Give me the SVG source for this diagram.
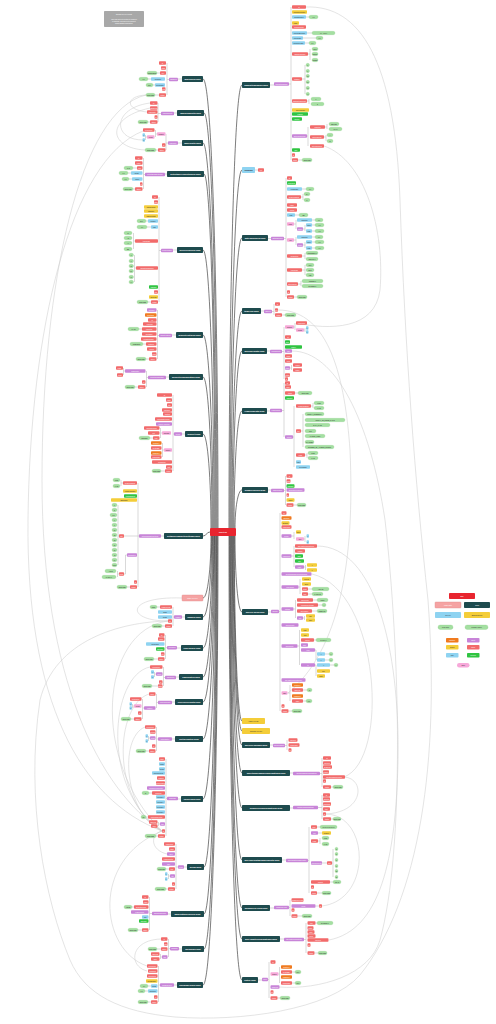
<svg xmlns="http://www.w3.org/2000/svg" width="496" height="1024" viewBox="0 0 496 1024">
<style>
rect{rx:.8px}
.j{fill:#1e4b4e}
.o{fill:#c884d8}
.s{fill:#f26a6a}
.b{fill:#8ed3f1}
.y{fill:#f4cd39}
.g{fill:#2fc441}
.r{fill:#f07a1f}
.p{fill:#f7a8d9}
.v{fill:#a4dfa1;stroke:#86cc83;stroke-width:.25;rx:1.7px}
.im{fill:#f5a3a3;stroke:#de8b8b;stroke-width:.4}
.br{fill:none;stroke:#c9c9c9;stroke-width:.7}
.ln{fill:none;stroke:#8c8c8c;stroke-width:.35}
.rf{fill:none;stroke:#cdcdcd;stroke-width:.55}
.mc{fill:none;stroke:#111;stroke-width:.55}
text{font-family:"Liberation Sans",Arial,sans-serif;font-size:1.5px;fill:#fff;text-anchor:middle}
.d{fill:#2a2a2a}
.m{font-size:2.3px;font-weight:bold}
.k{font-size:1.6px}
</style>
<rect width="496" height="1024" fill="#fff" rx="0"/>

<g id="connectors">
<g id="reference-links">
<path class="rf" d="M306,7 C360,5 395,60 400,200 C405,350 415,480 428,600 C440,760 420,900 360,975 C330,1010 240,1022 175,1017 C120,1012 85,995 70,960 C45,900 25,800 40,700 C55,640 120,622 168,621"/>
<path class="rf" d="M143,131 C70,160 30,330 28,520 C26,700 80,800 162,831"/>
<path class="rf" d="M146,95 C80,110 42,280 42,480 C42,680 100,790 162,831"/>
<path class="rf" d="M168,621 C100,630 90,760 162,831"/>
<path class="rf" d="M182,598 C125,596 125,621 168,621"/>
<path class="rf" d="M150,667 C110,675 100,790 162,831"/>
<path class="rf" d="M149,694 C115,705 110,800 162,831"/>
<path class="rf" d="M145,727 C118,738 125,815 162,831"/>
<path class="rf" d="M167,854 C150,850 150,834 162,831"/>
<path class="rf" d="M147,966 C100,950 90,860 162,831"/>
<path class="rf" d="M147,971 C128,966 130,940 161,939"/>
<path class="rf" d="M147,112 C125,110 125,96 146,95"/>
<path class="rf" d="M150,103 C112,108 112,140 143,140"/>
<path class="rf" d="M150,108 C105,118 108,148 145,150"/>
<path class="rf" d="M278,310 C330,310 345,380 350,450 C355,560 340,650 288,693"/>
<path class="rf" d="M292,351 C335,351 370,420 385,520 C400,650 405,850 380,940 C370,975 320,990 279,987"/>
<path class="rf" d="M324,146 C365,160 385,230 380,290 C375,330 330,330 296,323"/>
<path class="rf" d="M317,546 C375,546 400,650 398,760 C396,860 380,930 329,940"/>
<path class="rf" d="M344,777 C365,778 365,812 326,814"/>
<path class="rf" d="M326,814 C370,815 372,900 322,906"/>
<path class="rf" d="M312,574 C380,590 390,760 344,777"/>
</g>
<g id="root-links">
<path class="mc" d="M211,528 C211,481 207.8,434 203,434"/>
<path class="mc" d="M212,528 C212,452 208.4,377 203,377"/>
<path class="mc" d="M213,528 C213,431 209,335 203,335"/>
<path class="mc" d="M214,528 C214,389 209.6,250 203,250"/>
<path class="mc" d="M215,528 C215,351 210.6,174 204,174"/>
<path class="mc" d="M216,528 C216,335 210.8,143 203,143"/>
<path class="mc" d="M217,528 C217,320 211.8,113 204,113"/>
<path class="mc" d="M218,528 C218,303 212,79 203,79"/>
<path class="mc" d="M235,528 C235,509 237.8,490 242,490"/>
<path class="mc" d="M234,528 C234,469 237.2,411 242,411"/>
<path class="mc" d="M233,528 C233,439 236.6,351 242,351"/>
<path class="mc" d="M232,528 C232,419 236,311 242,311"/>
<path class="mc" d="M231,528 C231,383 235.4,238 242,238"/>
<path class="mc" d="M230,528 C230,349 234.8,170 242,170"/>
<path class="mc" d="M229,528 C229,306 234.2,85 242,85"/>
<path class="mc" d="M210,532 C206,532 207,536 203,536"/>
<path class="mc" d="M211,536 C211,567 207.8,598 203,598"/>
<path class="mc" d="M211.7,536 C211.7,576 208.2,617 203,617"/>
<path class="mc" d="M212.4,536 C212.4,592 208.6,648 203,648"/>
<path class="mc" d="M213.1,536 C213.1,606 209.1,677 203,677"/>
<path class="mc" d="M213.8,536 C213.8,619 209.5,702 203,702"/>
<path class="mc" d="M214.5,536 C214.5,637 209.9,739 203,739"/>
<path class="mc" d="M215.2,536 C215.2,667 210.3,799 203,799"/>
<path class="mc" d="M215.9,536 C215.9,701 211.1,867 204,867"/>
<path class="mc" d="M216.6,536 C216.6,725 211.6,914 204,914"/>
<path class="mc" d="M217.3,536 C217.3,742 212,949 204,949"/>
<path class="mc" d="M218,536 C218,760 212,985 203,985"/>
<path class="mc" d="M235,536 C235,574 237.8,612 242,612"/>
<path class="mc" d="M234.3,536 C234.3,628 237.4,721 242,721"/>
<path class="mc" d="M233.7,536 C233.7,633 237,731 242,731"/>
<path class="mc" d="M233,536 C233,640 236.6,745 242,745"/>
<path class="mc" d="M232.3,536 C232.3,654 236.2,773 242,773"/>
<path class="mc" d="M231.7,536 C231.7,672 235.8,808 242,808"/>
<path class="mc" d="M231,536 C231,698 235.4,860 242,860"/>
<path class="mc" d="M230.3,536 C230.3,722 235,908 242,908"/>
<path class="mc" d="M229.7,536 C229.7,737 234.6,939 242,939"/>
<path class="mc" d="M229,536 C229,758 234.2,980 242,980"/>
</g>
<g id="tree-links">
<path class="ln" d="M270,85 H274 M255,170 H258 M268,238.5 H271 M261,311 H264 M267,351 H270 M267,411 H270 M268,490 H271 M268,612 H271 M270,745 H273 M290,773 H293 M290,808 H293 M282,860 H286 M270,908 H274 M280,939 H284 M258,980 H262"/>
<path class="br" d="M289,84 H291 M291,7 V160 M306,17 H309 M307,33 H312 M303,38 H316 M305,43 H309 M308,54 H310 M310,49 V60 M302,79 H305 M305,65 V94 M307,101 H309 M309,99 V104 M307,136 H308 M308,127 V146 M325,127 H327 M327,124 V129 M324,137 H326 M326,135 V141 M298,160 H302"/>
<path class="br" d="M284,238.5 H286 M286,178 V297 M302,189 H306 M301,197 H303 M303,194 V200 M295,215 H299 M294,224 H296 M296,220 V229 M312,220 H315 M303,229 H305 M305,225 V231 M312,225 H315 M312,231 H315 M294,240 H296 M296,237 V245 M312,237 H315 M303,245 H305 M305,242 V248 M312,242 H315 M312,248 H315 M302,256 H305 M305,253 V259 M302,270 H305 M305,265 V275 M298,284 H301 M301,281 V286 M294,297 H297"/>
<path class="br" d="M272,311.5 H274 M274,304 V315 M282,315 H285"/>
<path class="br" d="M282,351.5 H284 M284,327 V379 M294,327 H295 M295,323 V330 M304,330 H305 M305,328 V332 M290,368 H291.5 M291.5,365 V370"/>
<path class="br" d="M282,410.5 H284 M284,383 V437 M295,393 H298 M293,437 H294 M294,406 V467 M311,406 H313 M313,403 V408 M301,431 H303 M303,414 V447 M305,455 H307 M307,453 V458"/>
<path class="br" d="M284,490.5 H285.5 M285.5,476 V505 M293.5,505 H297"/>
<path class="br" d="M279,611.5 H280 M280,513 V711 M291.5,536 H294 M294,532 V539 M304,539 H305 M305,536 V542 M291.5,556 H294 M294,546 V567 M304,567 H305.5 M305.5,565 V570 M298.5,587 H300 M300,579 V594 M308,589 H312 M308,594 H312 M293.5,609 H295.5 M295.5,600 V618 M313,600 H317 M318,605 H322 M312,611 H317 M303,618 H304.5 M304.5,616 V620 M297.5,646 H299.5 M299.5,630 V665 M314,640 H316 M315,650 H316 M316,650 V660 M325,654 H329 M325,660 H329 M315,665 H316 M316,665 V676 M330,665 H334 M287.5,693 H290 M290,685 V701 M303,690 H307 M303,701 H306 M288.5,711 H292"/>
<path class="br" d="M285,745.5 H287 M287,740 V750"/>
<path class="br" d="M320,773.5 H322 M322,758 V787 M331,787 H333"/>
<path class="br" d="M318,807.5 H322 M322,795 V819 M331,819 H333"/>
<path class="br" d="M308,860.5 H309 M309,827 V893 M317,827 H320 M318,833 H322 M318,841 H320 M320,838 V844 M322,863 H327 M332,863 H333 M333,849 V877 M330,882 H333 M317,893 H322"/>
<path class="br" d="M289,907.5 H290 M290,900 V916 M315.5,906 H319 M297.5,916 H302"/>
<path class="br" d="M304,939.5 H306 M306,923 V953 M315.5,923 H317 M314.5,953 H318"/>
<path class="br" d="M268,979.5 H269 M269,962 V998 M278.5,974 H279.5 M279.5,967 V983 M292,972 H295 M292,983 H295 M277.5,998 H280"/>
<path class="ln" d="M182,79 H178 M177,113 H174 M182,143 H178 M167,174 H165 M177,250 H173 M176,335 H172 M169,377 H166 M185,434 H182 M164,536 H161 M185,617 H182 M181,648 H177 M179,677 H176 M175,702 H172 M175,739 H172 M181,799 H178 M187,867 H184 M171,914 H168 M182,949 H179 M177,985 H174"/>
<path class="br" d="M169,79.5 H167 M167,63 V95 M157,73 H160 M148,79 H151 M153,85 H155 M155,95 H159"/>
<path class="br" d="M161,113.5 H158 M158,103 V122 M148,122 H150"/>
<path class="br" d="M168,143 H166 M166,134 V150 M157,134 H155.5 M155.5,130 V137 M147,137 H145.5 M145.5,135 V140 M156,150 H158"/>
<path class="br" d="M145,174.5 H143.5 M143.5,158 V189 M133,168 H137 M128,173 H131 M129,179 H132 M133,189 H135"/>
<path class="br" d="M161,250.5 H159 M159,197 V302 M146,221 H148 M147,227 H151 M135,241 H133.5 M133.5,233 V249 M136,268 H134.5 M134.5,255 V282 M148,302 H151"/>
<path class="br" d="M159,335.5 H157.5 M157.5,310 V359 M139,329 H142 M143,344 H146 M146,359 H149"/>
<path class="br" d="M148,377.5 H146.5 M146.5,371 V387 M125,371 H123.5 M123.5,368 V375 M135,387 H138"/>
<path class="br" d="M174,434 H173 M173,395 V471 M162,433 H160.5 M160.5,428 V438 M150,438 H153 M164,450 H162.5 M162.5,443 V457 M161,471 H165"/>
<path class="br" d="M139,536 H138 M138,483 V587 M123,483 H121 M121,480 V486 M124,536 H138 M119,536 H118 M118,505 V565 M127,555 H125.5 M125.5,555 V574 M124,574 H125.5 M119,574 H117.5 M117.5,571 V577 M127,587 H130"/>
<path class="br" d="M174,617 H173 M173,607 V626 M157,607 H160 M162,626 H165"/>
<path class="br" d="M167,647.7 H165.5 M165.5,635 V659 M154,659 H158"/>
<path class="br" d="M165,677.5 H163.5 M163.5,667 V686 M156,674 H154.5 M154.5,672 V677 M152,686 H158"/>
<path class="br" d="M158,702.5 H156.5 M156.5,694 V708 M144,708 H142.5 M142.5,699 V719 M134,706 H132.5 M132.5,704 V708 M131,719 H134"/>
<path class="br" d="M158,739 H156.5 M156.5,727 V751 M150,738 H148.5 M148.5,736 V741 M146,751 H149"/>
<path class="br" d="M167,798.5 H166 M166,759 V836 M149,793 H152 M146,817 H148 M160,824 H158.5 M158.5,822 V826 M156,836 H158"/>
<path class="br" d="M178,867 H176 M176,844 V889 M166,869 H169 M170,876 H168.5 M168.5,874 V879 M166,889 H168"/>
<path class="br" d="M152,913.5 H149.5 M149.5,897 V930 M132,907 H134 M138,930 H142"/>
<path class="br" d="M170,948.7 H168.5 M168.5,939 V957 M157,949 H161 M162,957 H160.5 M160.5,954 V959"/>
<path class="br" d="M160,985 H158.5 M158.5,966 V1002 M148,986 H151 M145,991 H148 M148,1002 H151"/>
</g>
</g>

<g id="note">
<rect x="104" y="11" width="40" height="16" fill="#a8a8a8" rx="0.6"/>
<text x="124" y="15" font-size="1.8">Ekahau Pro File Format</text>
<text x="124" y="19.5" font-size="1.3">This map was not created or endorsed</text>
<text x="124" y="21.7" font-size="1.3">by Ekahau, and does not represent</text>
<text x="124" y="23.9" font-size="1.3">official Ekahau information.</text>
</g>

<g id="root">
<rect x="210" y="528" width="26" height="8" fill="#e8252f" rx="1"/>
<text x="223" y="533.1" font-size="3" font-weight="bold">project.esx</text>
</g>

<g id="simulatedRadios">
<rect class="j" x="242" y="82" width="28" height="6"/><text class="m" x="256" y="85.8">simulatedRadios.json</text>
<rect class="o" x="274" y="82.3" width="15" height="3.4"/><text class="k" x="281.5" y="84.6">simulatedRadios</text>
<rect class="s" x="292" y="5.3" width="14" height="3.4"/><text x="299" y="7.5">id</text>
<rect class="y" x="292" y="10.3" width="15" height="3.4"/><text class="d" x="299.5" y="12.5">accessPointIndex</text>
<rect class="b" x="292" y="15.3" width="14" height="3.4"/><text class="d" x="299" y="17.5">transmitPower</text>
<rect class="v" x="309" y="15.3" width="9" height="3.4"/><text class="d" x="313.5" y="17.5">0.0</text>
<rect class="y" x="292" y="21.3" width="7" height="3.4"/><text class="d" x="295.5" y="23.5">band</text>
<rect class="s" x="292" y="25.3" width="14" height="3.4"/><text x="299" y="27.5">accessPointId</text>
<rect class="b" x="292" y="31.3" width="15" height="3.4"/><text class="d" x="299.5" y="33.5">antennaDirection</text>
<rect class="v" x="312" y="31.3" width="23" height="3.4"/><text class="d" x="323.5" y="33.5">0.0 - 360.0</text>
<rect class="b" x="292" y="36.3" width="11" height="3.4"/><text class="d" x="297.5" y="38.5">antennaTilt</text>
<rect class="v" x="316" y="36.3" width="7" height="3.4"/><text class="d" x="319.5" y="38.5">0.0</text>
<rect class="b" x="292" y="41.3" width="13" height="3.4"/><text class="d" x="298.5" y="43.5">antennaHeight</text>
<rect class="v" x="309" y="41.3" width="7" height="3.4"/><text class="d" x="312.5" y="43.5">2.4</text>
<rect class="s" x="292" y="52.3" width="16" height="3.4"/><text x="300" y="54.5">radioTechnology</text>
<rect class="v" x="312" y="47.3" width="6" height="3.4"/><text class="d" x="315" y="49.5">BLE</text>
<rect class="v" x="312" y="52.3" width="6" height="3.4"/><text class="d" x="315" y="54.5">DOT11</text>
<rect class="v" x="312" y="58.3" width="6" height="3.4"/><text class="d" x="315" y="60.5">NONE</text>
<rect class="s" x="292" y="77.3" width="10" height="3.4"/><text x="297" y="79.5">channel</text>
<rect class="v" x="306" y="63.3" width="3.5" height="3.4"/><text class="d" x="307.7" y="65.5">1</text>
<rect class="v" x="306" y="69.3" width="3.5" height="3.4"/><text class="d" x="307.7" y="71.5">6</text>
<rect class="v" x="306" y="74.3" width="3.5" height="3.4"/><text class="d" x="307.7" y="76.5">11</text>
<rect class="v" x="306" y="80.3" width="3.5" height="3.4"/><text class="d" x="307.7" y="82.5">36</text>
<rect class="v" x="306" y="86.3" width="3.5" height="3.4"/><text class="d" x="307.7" y="88.5">40</text>
<rect class="v" x="306" y="92.3" width="3.5" height="3.4"/><text class="d" x="307.7" y="94.5">44</text>
<rect class="s" x="292" y="99.3" width="15" height="3.4"/><text x="299.5" y="101.5">spatialStreamCount</text>
<rect class="v" x="311" y="97.3" width="10" height="3.4"/><text class="d" x="316" y="99.5">1</text>
<rect class="v" x="311" y="102.3" width="13" height="3.4"/><text class="d" x="317.5" y="104.5">2</text>
<rect class="y" x="292" y="108.3" width="17" height="3.4"/><text class="d" x="300.5" y="110.5">antennaIndex</text>
<rect class="g" x="292" y="112.3" width="16" height="3.4"/><text x="300" y="114.5">enabled</text>
<rect class="g" x="292" y="117.3" width="10" height="3.4"/><text x="297" y="119.5">shortGI</text>
<rect class="o" x="292" y="134.3" width="15" height="3.4"/><text x="299.5" y="136.5">antennaMounting</text>
<rect class="s" x="310" y="125.3" width="15" height="3.4"/><text x="317.5" y="127.5">mounting</text>
<rect class="v" x="329" y="122.3" width="10" height="3.4"/><text class="d" x="334" y="124.5">CEILING</text>
<rect class="v" x="329" y="127.3" width="13" height="3.4"/><text class="d" x="335.5" y="129.5">WALL</text>
<rect class="s" x="310" y="135.3" width="14" height="3.4"/><text x="317" y="137.5">antennaMode</text>
<rect class="v" x="327" y="133.3" width="6" height="3.4"/><text class="d" x="330" y="135.5">A</text>
<rect class="v" x="327" y="139.3" width="6" height="3.4"/><text class="d" x="330" y="141.5">B</text>
<rect class="s" x="310" y="144.3" width="14" height="3.4"/><text x="317" y="146.5">antennaTypeId</text>
<rect class="g" x="292" y="148.3" width="8" height="3.4"/><text x="296" y="150.5">auto</text>
<rect class="s" x="292" y="153.3" width="3" height="3.4"/><text x="293.5" y="155.5">id</text>
<rect class="s" x="292" y="158.3" width="6" height="3.4"/><text x="295" y="160.5">status</text>
<rect class="v" x="302" y="158.3" width="10" height="3.4"/><text class="d" x="307" y="160.5">CREATED</text>
</g>

<g id="version">
<rect class="b" x="242" y="167" width="13" height="6"/><text class="m d" x="248.5" y="170.8">version</text>
<rect class="s" x="258" y="168.3" width="6" height="3.4"/><text x="261" y="170.5">text</text>
</g>

<g id="antennaTypes">
<rect class="j" x="242" y="235" width="26" height="6"/><text class="m" x="255" y="238.8">antennaTypes.json</text>
<rect class="o" x="271" y="236.8" width="13" height="3.4"/><text class="k" x="277.5" y="239.1">antennaTypes</text>
<rect class="s" x="287" y="176.3" width="5" height="3.4"/><text x="289.5" y="178.5">id</text>
<rect class="g" x="287" y="181.3" width="9" height="3.4"/><text x="291.5" y="183.5">apCoupled</text>
<rect class="b" x="287" y="187.3" width="15" height="3.4"/><text class="d" x="294.5" y="189.5">beamwidth</text>
<rect class="v" x="306" y="187.3" width="8" height="3.4"/><text class="d" x="310" y="189.5">0.0</text>
<rect class="s" x="287" y="195.3" width="14" height="3.4"/><text x="294" y="197.5">frequencyBand</text>
<rect class="v" x="304" y="192.3" width="6" height="3.4"/><text class="d" x="307" y="194.5">2.4</text>
<rect class="v" x="304" y="198.3" width="6" height="3.4"/><text class="d" x="307" y="200.5">5</text>
<rect class="s" x="287" y="203.3" width="10" height="3.4"/><text x="292" y="205.5">name</text>
<rect class="s" x="287" y="208.3" width="10" height="3.4"/><text x="292" y="210.5">vendor</text>
<rect class="b" x="287" y="213.3" width="8" height="3.4"/><text class="d" x="291" y="215.5">gain</text>
<rect class="v" x="299" y="213.3" width="9" height="3.4"/><text class="d" x="303.5" y="215.5">dBi</text>
<rect class="p" x="287" y="222.3" width="7" height="3.4"/><text class="d" x="290.5" y="224.5">horiz</text>
<rect class="b" x="297" y="218.3" width="15" height="3.4"/><text class="d" x="304.5" y="220.5">maxGain</text>
<rect class="v" x="315" y="218.3" width="8" height="3.4"/><text class="d" x="319" y="220.5">0.0</text>
<rect class="o" x="297" y="227.3" width="6" height="3.4"/><text x="300" y="229.5">values</text>
<rect class="b" x="306" y="223.3" width="6" height="3.4"/><text class="d" x="309" y="225.5">angle</text>
<rect class="b" x="306" y="229.3" width="6" height="3.4"/><text class="d" x="309" y="231.5">gain</text>
<rect class="v" x="315" y="223.3" width="9" height="3.4"/><text class="d" x="319.5" y="225.5">0.0</text>
<rect class="v" x="315" y="229.3" width="9" height="3.4"/><text class="d" x="319.5" y="231.5">0.0</text>
<rect class="p" x="287" y="238.3" width="7" height="3.4"/><text class="d" x="290.5" y="240.5">vert</text>
<rect class="b" x="297" y="235.3" width="15" height="3.4"/><text class="d" x="304.5" y="237.5">maxGain</text>
<rect class="v" x="315" y="235.3" width="8" height="3.4"/><text class="d" x="319" y="237.5">0.0</text>
<rect class="o" x="297" y="243.3" width="6" height="3.4"/><text x="300" y="245.5">values</text>
<rect class="b" x="306" y="240.3" width="6" height="3.4"/><text class="d" x="309" y="242.5">angle</text>
<rect class="b" x="306" y="246.3" width="6" height="3.4"/><text class="d" x="309" y="248.5">gain</text>
<rect class="v" x="315" y="240.3" width="9" height="3.4"/><text class="d" x="319.5" y="242.5">0.0</text>
<rect class="v" x="315" y="246.3" width="9" height="3.4"/><text class="d" x="319.5" y="248.5">0.0</text>
<rect class="s" x="287" y="254.3" width="15" height="3.4"/><text x="294.5" y="256.5">polarization</text>
<rect class="v" x="306" y="251.3" width="12" height="3.4"/><text class="d" x="312" y="253.5">HORIZONTAL</text>
<rect class="v" x="306" y="257.3" width="12" height="3.4"/><text class="d" x="312" y="259.5">VERTICAL</text>
<rect class="s" x="287" y="268.3" width="15" height="3.4"/><text x="294.5" y="270.5">technology</text>
<rect class="v" x="306" y="263.3" width="8" height="3.4"/><text class="d" x="310" y="265.5">WIFI</text>
<rect class="v" x="306" y="268.3" width="8" height="3.4"/><text class="d" x="310" y="270.5">BLE</text>
<rect class="v" x="306" y="273.3" width="8" height="3.4"/><text class="d" x="310" y="275.5">LTE</text>
<rect class="s" x="287" y="282.3" width="11" height="3.4"/><text x="292.5" y="284.5">antennaType</text>
<rect class="v" x="302" y="279.3" width="21" height="3.4"/><text class="d" x="312.5" y="281.5">INTERNAL</text>
<rect class="v" x="302" y="284.3" width="21" height="3.4"/><text class="d" x="312.5" y="286.5">EXTERNAL</text>
<rect class="s" x="287" y="290.3" width="3" height="3.4"/><text x="288.5" y="292.5">id</text>
<rect class="s" x="287" y="295.3" width="7" height="3.4"/><text x="290.5" y="297.5">status</text>
<rect class="v" x="297" y="295.3" width="10" height="3.4"/><text class="d" x="302" y="297.5">CREATED</text>
</g>

<g id="tagKeys">
<rect class="j" x="242" y="308" width="19" height="6"/><text class="m" x="251.5" y="311.8">tagKeys.json</text>
<rect class="o" x="264" y="309.8" width="8" height="3.4"/><text x="268" y="312">tagKeys</text>
<rect class="s" x="275" y="302.3" width="5" height="3.4"/><text x="277.5" y="304.5">id</text>
<rect class="s" x="275" y="308.3" width="3" height="3.4"/><text x="276.5" y="310.5">key</text>
<rect class="s" x="275" y="313.3" width="7" height="3.4"/><text x="278.5" y="315.5">status</text>
<rect class="v" x="285" y="313.3" width="11" height="3.4"/><text class="d" x="290.5" y="315.5">CREATED</text>
</g>

<g id="accessPoints">
<rect class="j" x="242" y="348" width="25" height="6"/><text class="m" x="254.5" y="351.8">accessPoints.json</text>
<rect class="o" x="270" y="349.8" width="12" height="3.4"/><text x="276" y="352">accessPoints</text>
<rect class="p" x="285" y="325.3" width="9" height="3.4"/><text class="d" x="289.5" y="327.5">location</text>
<rect class="s" x="296" y="321.3" width="11" height="3.4"/><text x="301.5" y="323.5">floorPlanId</text>
<rect class="p" x="296" y="328.3" width="8" height="3.4"/><text class="d" x="300" y="330.5">coord</text>
<rect class="b" x="306" y="326.3" width="2.5" height="3.4"/><text class="d" x="307.2" y="328.5">x</text>
<rect class="b" x="306" y="330.3" width="2.5" height="3.4"/><text class="d" x="307.2" y="332.5">y</text>
<rect class="s" x="285" y="335.3" width="6" height="3.4"/><text x="288" y="337.5">id</text>
<rect class="g" x="285" y="340.3" width="5" height="3.4"/><text x="287.5" y="342.5">mine</text>
<rect class="g" x="285" y="345.3" width="17" height="3.4"/><text x="293.5" y="347.5">hidden</text>
<rect class="o" x="285" y="349.3" width="7" height="3.4"/><text x="288.5" y="351.5">tags</text>
<rect class="s" x="285" y="354.3" width="7" height="3.4"/><text x="288.5" y="356.5">name</text>
<rect class="s" x="285" y="359.3" width="7" height="3.4"/><text x="288.5" y="361.5">color</text>
<rect class="o" x="285" y="366.3" width="5" height="3.4"/><text x="287.5" y="368.5">model</text>
<rect class="s" x="293" y="363.3" width="9" height="3.4"/><text x="297.5" y="365.5">vendor</text>
<rect class="s" x="293" y="368.3" width="9" height="3.4"/><text x="297.5" y="370.5">model</text>
<rect class="s" x="285" y="373.3" width="5" height="3.4"/><text x="287.5" y="375.5">status</text>
<rect class="s" x="285" y="377.3" width="3" height="3.4"/><text x="286.5" y="379.5">id</text>
</g>

<g id="requirements">
<rect class="j" x="242" y="408" width="25" height="6"/><text class="m" x="254.5" y="411.8">requirements.json</text>
<rect class="o" x="270" y="408.8" width="12" height="3.4"/><text x="276" y="411">requirements</text>
<rect class="s" x="285" y="381.3" width="5" height="3.4"/><text x="287.5" y="383.5">id</text>
<rect class="s" x="285" y="385.3" width="6" height="3.4"/><text x="288" y="387.5">name</text>
<rect class="s" x="285" y="391.3" width="10" height="3.4"/><text x="290" y="393.5">status</text>
<rect class="v" x="298" y="391.3" width="14" height="3.4"/><text class="d" x="305" y="393.5">CREATED</text>
<rect class="g" x="285" y="396.3" width="9" height="3.4"/><text x="289.5" y="398.5">isDefault</text>
<rect class="o" x="285" y="435.3" width="8" height="3.4"/><text x="289" y="437.5">criteria</text>
<rect class="s" x="296" y="404.3" width="15" height="3.4"/><text x="303.5" y="406.5">frequencyBand</text>
<rect class="v" x="314" y="401.3" width="10" height="3.4"/><text class="d" x="319" y="403.5">TWO</text>
<rect class="v" x="314" y="406.3" width="10" height="3.4"/><text class="d" x="319" y="408.5">FIVE</text>
<rect class="s" x="296" y="429.3" width="5" height="3.4"/><text x="298.5" y="431.5">type</text>
<rect class="v" x="305" y="412.3" width="19" height="3.4"/><text class="d" x="314.5" y="414.5">SIGNAL_STRENGTH</text>
<rect class="v" x="305" y="418.3" width="40" height="3.4"/><text class="d" x="325" y="420.5">SIGNAL_TO_NOISE_RATIO</text>
<rect class="v" x="305" y="423.3" width="25" height="3.4"/><text class="d" x="317.5" y="425.5">DATA_RATE</text>
<rect class="v" x="305" y="429.3" width="11" height="3.4"/><text class="d" x="310.5" y="431.5">RTT</text>
<rect class="v" x="305" y="434.3" width="20" height="3.4"/><text class="d" x="315" y="436.5">PACKET_LOSS</text>
<rect class="v" x="305" y="440.3" width="9" height="3.4"/><text class="d" x="309.5" y="442.5">CHANNEL</text>
<rect class="v" x="305" y="445.3" width="29" height="3.4"/><text class="d" x="319.5" y="447.5">NUMBER_OF_ACCESS_POINTS</text>
<rect class="s" x="296" y="453.3" width="9" height="3.4"/><text x="300.5" y="455.5">band</text>
<rect class="v" x="308" y="451.3" width="10" height="3.4"/><text class="d" x="313" y="453.5">TWO</text>
<rect class="v" x="308" y="456.3" width="10" height="3.4"/><text class="d" x="313" y="458.5">FIVE</text>
<rect class="b" x="296" y="460.3" width="5" height="3.4"/><text class="d" x="298.5" y="462.5">value</text>
<rect class="b" x="296" y="465.3" width="14" height="3.4"/><text class="d" x="303" y="467.5">percentage</text>
</g>

<g id="usageProfiles">
<rect class="j" x="242" y="487" width="26" height="6"/><text class="m" x="255" y="490.8">usageProfiles.json</text>
<rect class="o" x="271" y="488.8" width="13" height="3.4"/><text x="277.5" y="491">usageProfiles</text>
<rect class="s" x="286.5" y="474.3" width="6" height="3.4"/><text x="289.5" y="476.5">id</text>
<rect class="s" x="286.5" y="479.3" width="4" height="3.4"/><text x="288.5" y="481.5">name</text>
<rect class="g" x="286.5" y="484.3" width="8" height="3.4"/><text x="290.5" y="486.5">isDefault</text>
<rect class="o" x="286.5" y="488.3" width="18" height="3.4"/><text x="295.5" y="490.5">applicationProfileIds</text>
<rect class="s" x="286.5" y="493.3" width="2.5" height="3.4"/><text x="287.7" y="495.5">id</text>
<rect class="y" x="286.5" y="498.3" width="8" height="3.4"/><text class="d" x="290.5" y="500.5">usage</text>
<rect class="s" x="286.5" y="503.3" width="7" height="3.4"/><text x="290" y="505.5">status</text>
<rect class="v" x="297" y="503.3" width="9" height="3.4"/><text class="d" x="301.5" y="505.5">CREATED</text>
</g>

<g id="survey">
<rect class="j" x="242" y="609" width="26" height="6"/><text class="m" x="255" y="612.8">survey-xxxx.json</text>
<rect class="o" x="271" y="609.8" width="8" height="3.4"/><text x="275" y="612">surveys</text>
<rect class="s" x="281.5" y="511.3" width="5" height="3.4"/><text x="284" y="513.5">id</text>
<rect class="r" x="281.5" y="516.3" width="10" height="3.4"/><text x="286.5" y="518.5">startTime</text>
<rect class="y" x="281.5" y="521.3" width="8" height="3.4"/><text class="d" x="285.5" y="523.5">duration</text>
<rect class="s" x="281.5" y="525.3" width="10" height="3.4"/><text x="286.5" y="527.5">floorPlanId</text>
<rect class="o" x="281.5" y="534.3" width="10" height="3.4"/><text x="286.5" y="536.5">device</text>
<rect class="y" x="296" y="530.3" width="5" height="3.4"/><text class="d" x="298.5" y="532.5">index</text>
<rect class="p" x="296" y="537.3" width="8" height="3.4"/><text class="d" x="300" y="539.5">pos</text>
<rect class="b" x="306.5" y="534.3" width="2.5" height="3.4"/><text class="d" x="307.7" y="536.5">x</text>
<rect class="b" x="306.5" y="540.3" width="2.5" height="3.4"/><text class="d" x="307.7" y="542.5">y</text>
<rect class="o" x="281.5" y="554.3" width="10" height="3.4"/><text x="286.5" y="556.5">trackPoints</text>
<rect class="s" x="295" y="544.3" width="22" height="3.4"/><text x="306" y="546.5">wifiAdapterInformationId</text>
<rect class="s" x="295" y="549.3" width="10" height="3.4"/><text x="300" y="551.5">trackId</text>
<rect class="g" x="295" y="554.3" width="8" height="3.4"/><text x="299" y="556.5">valid</text>
<rect class="g" x="295" y="559.3" width="9" height="3.4"/><text x="299.5" y="561.5">gps</text>
<rect class="o" x="295" y="565.3" width="9" height="3.4"/><text x="299.5" y="567.5">point</text>
<rect class="y" x="307" y="563.3" width="10" height="3.4"/><text class="d" x="312" y="565.5">x</text>
<rect class="y" x="307" y="568.3" width="10" height="3.4"/><text class="d" x="312" y="570.5">y</text>
<rect class="o" x="281.5" y="572.3" width="30" height="3.4"/><text x="296.5" y="574.5">spectrumChannelInformationIds</text>
<rect class="o" x="281.5" y="585.3" width="17" height="3.4"/><text x="290" y="587.5">scanConfig</text>
<rect class="y" x="302" y="577.3" width="9" height="3.4"/><text class="d" x="306.5" y="579.5">interval</text>
<rect class="y" x="302" y="582.3" width="9" height="3.4"/><text class="d" x="306.5" y="584.5">dwell</text>
<rect class="s" x="302" y="587.3" width="6" height="3.4"/><text x="305" y="589.5">mode</text>
<rect class="v" x="312" y="587.3" width="17" height="3.4"/><text class="d" x="320.5" y="589.5">ACTIVE</text>
<rect class="s" x="302" y="592.3" width="6" height="3.4"/><text x="305" y="594.5">type</text>
<rect class="v" x="312" y="592.3" width="11" height="3.4"/><text class="d" x="317.5" y="594.5">PASSIVE</text>
<rect class="o" x="281.5" y="607.3" width="12" height="3.4"/><text x="287.5" y="609.5">settings</text>
<rect class="s" x="297" y="598.3" width="16" height="3.4"/><text x="305" y="600.5">surveyType</text>
<rect class="v" x="317" y="598.3" width="11" height="3.4"/><text class="d" x="322.5" y="600.5">STOP</text>
<rect class="s" x="297" y="603.3" width="21" height="3.4"/><text x="307.5" y="605.5">measurementMode</text>
<rect class="v" x="322" y="603.3" width="4" height="3.4"/><text class="d" x="324" y="605.5">A</text>
<rect class="s" x="297" y="609.3" width="15" height="3.4"/><text x="304.5" y="611.5">deviceType</text>
<rect class="v" x="317" y="609.3" width="10" height="3.4"/><text class="d" x="322" y="611.5">SIDEKICK</text>
<rect class="o" x="297" y="616.3" width="6" height="3.4"/><text x="300" y="618.5">rate</text>
<rect class="y" x="306" y="614.3" width="9" height="3.4"/><text class="d" x="310.5" y="616.5">min</text>
<rect class="y" x="306" y="618.3" width="9" height="3.4"/><text class="d" x="310.5" y="620.5">max</text>
<rect class="o" x="281.5" y="623.3" width="17" height="3.4"/><text x="290" y="625.5">surveyPoints</text>
<rect class="o" x="281.5" y="644.3" width="16" height="3.4"/><text x="289.5" y="646.5">surveyData</text>
<rect class="y" x="301" y="628.3" width="8" height="3.4"/><text class="d" x="305" y="630.5">start</text>
<rect class="y" x="301" y="633.3" width="8" height="3.4"/><text class="d" x="305" y="635.5">end</text>
<rect class="s" x="301" y="638.3" width="13" height="3.4"/><text x="307.5" y="640.5">source</text>
<rect class="v" x="316" y="638.3" width="15" height="3.4"/><text class="d" x="323.5" y="640.5">MANUAL</text>
<rect class="o" x="301" y="643.3" width="7" height="3.4"/><text x="304.5" y="645.5">path</text>
<rect class="o" x="301" y="648.3" width="14" height="3.4"/><text x="308" y="650.5">from</text>
<rect class="b" x="317" y="652.3" width="8" height="3.4"/><text class="d" x="321" y="654.5">x</text>
<rect class="v" x="329" y="652.3" width="4" height="3.4"/><text class="d" x="331" y="654.5">0</text>
<rect class="b" x="317" y="658.3" width="8" height="3.4"/><text class="d" x="321" y="660.5">y</text>
<rect class="v" x="329" y="658.3" width="4" height="3.4"/><text class="d" x="331" y="660.5">0</text>
<rect class="o" x="301" y="663.3" width="14" height="3.4"/><text x="308" y="665.5">to</text>
<rect class="b" x="317" y="663.3" width="13" height="3.4"/><text class="d" x="323.5" y="665.5">x</text>
<rect class="v" x="334" y="663.3" width="4" height="3.4"/><text class="d" x="336" y="665.5">0</text>
<rect class="y" x="317" y="669.3" width="13" height="3.4"/><text class="d" x="323.5" y="671.5">time</text>
<rect class="y" x="317" y="674.3" width="8" height="3.4"/><text class="d" x="321" y="676.5">count</text>
<rect class="o" x="281.5" y="678.3" width="24" height="3.4"/><text x="293.5" y="680.5">wifiAdapterInformationIds</text>
<rect class="p" x="281.5" y="691.3" width="6" height="3.4"/><text class="d" x="284.5" y="693.5">tags</text>
<rect class="r" x="292" y="683.3" width="11" height="3.4"/><text x="297.5" y="685.5">createdAt</text>
<rect class="s" x="292" y="688.3" width="11" height="3.4"/><text x="297.5" y="690.5">tagKeyId</text>
<rect class="v" x="307" y="688.3" width="5" height="3.4"/><text class="d" x="309.5" y="690.5">id</text>
<rect class="r" x="292" y="694.3" width="11" height="3.4"/><text x="297.5" y="696.5">modifiedAt</text>
<rect class="s" x="292" y="699.3" width="11" height="3.4"/><text x="297.5" y="701.5">value</text>
<rect class="v" x="306" y="699.3" width="6" height="3.4"/><text class="d" x="309" y="701.5">text</text>
<rect class="s" x="281.5" y="704.3" width="3" height="3.4"/><text x="283" y="706.5">id</text>
<rect class="s" x="281.5" y="709.3" width="7" height="3.4"/><text x="285" y="711.5">status</text>
<rect class="v" x="292" y="709.3" width="10" height="3.4"/><text class="d" x="297" y="711.5">CREATED</text>
</g>

<g id="tracks-bin">
<rect class="y" x="242" y="718" width="23" height="6"/><text class="d" x="253.5" y="721.6" font-size="1.9">tracks-xxxx.bin</text>
</g>
<g id="spectrum-bin">
<rect class="y" x="242" y="728" width="28" height="6"/><text class="d" x="256" y="731.6" font-size="1.9">spectrum-xxxx.bin</text>
</g>

<g id="surveyLookups">
<rect class="j" x="242" y="742" width="28" height="6"/><text class="m" x="256" y="745.8">surveyLookups.json</text>
<rect class="o" x="273" y="743.8" width="12" height="3.4"/><text x="279" y="746">surveyLookups</text>
<rect class="s" x="288.5" y="738.3" width="9" height="3.4"/><text x="293" y="740.5">surveyId</text>
<rect class="s" x="288.5" y="743.3" width="11" height="3.4"/><text x="294" y="745.5">floorPlanId</text>
<rect class="s" x="288.5" y="748.3" width="3" height="3.4"/><text x="290" y="750.5">id</text>
</g>

<g id="spectrumChannelInformations">
<rect class="j" x="242" y="770" width="48" height="6"/><text class="m" x="266" y="773.8">spectrumChannelInformations.json</text>
<rect class="o" x="293" y="771.8" width="27" height="3.4"/><text x="306.5" y="774">spectrumChannelInformations</text>
<rect class="s" x="323" y="756.3" width="8" height="3.4"/><text x="327" y="758.5">id</text>
<rect class="s" x="323" y="761.3" width="8" height="3.4"/><text x="327" y="763.5">surveyId</text>
<rect class="s" x="323" y="765.3" width="9" height="3.4"/><text x="327.5" y="767.5">frequency</text>
<rect class="s" x="323" y="770.3" width="6" height="3.4"/><text x="326" y="772.5">channel</text>
<rect class="s" x="323" y="775.3" width="22" height="3.4"/><text x="334" y="777.5">spectrumChannelInfoId</text>
<rect class="s" x="323" y="779.3" width="3" height="3.4"/><text x="324.5" y="781.5">id</text>
<rect class="s" x="323" y="785.3" width="8" height="3.4"/><text x="327" y="787.5">status</text>
<rect class="v" x="333" y="785.3" width="10" height="3.4"/><text class="d" x="338" y="787.5">CREATED</text>
</g>

<g id="scanRecordInformations">
<rect class="j" x="242" y="805" width="48" height="6"/><text class="m" x="266" y="808.8">scanRecordInformations.json</text>
<rect class="o" x="293" y="805.8" width="25" height="3.4"/><text x="305.5" y="808">scanRecordInformations</text>
<rect class="s" x="323" y="793.3" width="7" height="3.4"/><text x="326.5" y="795.5">id</text>
<rect class="s" x="323" y="797.3" width="7" height="3.4"/><text x="326.5" y="799.5">surveyId</text>
<rect class="s" x="323" y="802.3" width="8" height="3.4"/><text x="327" y="804.5">timestamp</text>
<rect class="s" x="323" y="807.3" width="7" height="3.4"/><text x="326.5" y="809.5">type</text>
<rect class="s" x="323" y="812.3" width="3" height="3.4"/><text x="324.5" y="814.5">id</text>
<rect class="s" x="323" y="817.3" width="8" height="3.4"/><text x="327" y="819.5">status</text>
<rect class="v" x="333" y="817.3" width="8" height="3.4"/><text class="d" x="337" y="819.5">CREATED</text>
</g>

<g id="accessPointMeasurements">
<rect class="j" x="242" y="857" width="40" height="6"/><text class="m" x="262" y="860.8">accessPointMeasurements.json</text>
<rect class="o" x="286" y="858.8" width="22" height="3.4"/><text x="297" y="861">accessPointMeasurements</text>
<rect class="s" x="311" y="825.3" width="6" height="3.4"/><text x="314" y="827.5">mac</text>
<rect class="v" x="320" y="825.3" width="17" height="3.4"/><text class="d" x="328.5" y="827.5">00:00:00:00:00:00</text>
<rect class="o" x="311" y="831.3" width="7" height="3.4"/><text x="314.5" y="833.5">info</text>
<rect class="y" x="322" y="831.3" width="9" height="3.4"/><text class="d" x="326.5" y="833.5">channel</text>
<rect class="s" x="311" y="839.3" width="7" height="3.4"/><text x="314.5" y="841.5">band</text>
<rect class="v" x="322" y="836.3" width="7" height="3.4"/><text class="d" x="325.5" y="838.5">TWO</text>
<rect class="v" x="322" y="842.3" width="7" height="3.4"/><text class="d" x="325.5" y="844.5">FIVE</text>
<rect class="o" x="311" y="861.3" width="11" height="3.4"/><text x="316.5" y="863.5">measurements</text>
<rect class="s" x="327" y="861.3" width="5" height="3.4"/><text x="329.5" y="863.5">phy</text>
<rect class="v" x="335" y="847.3" width="3" height="3.4"/><text class="d" x="336.5" y="849.5">a</text>
<rect class="v" x="335" y="852.3" width="3" height="3.4"/><text class="d" x="336.5" y="854.5">b</text>
<rect class="v" x="335" y="858.3" width="3" height="3.4"/><text class="d" x="336.5" y="860.5">g</text>
<rect class="v" x="335" y="864.3" width="3" height="3.4"/><text class="d" x="336.5" y="866.5">n</text>
<rect class="v" x="335" y="869.3" width="3" height="3.4"/><text class="d" x="336.5" y="871.5">ac</text>
<rect class="v" x="335" y="875.3" width="3" height="3.4"/><text class="d" x="336.5" y="877.5">ax</text>
<rect class="s" x="311" y="880.3" width="19" height="3.4"/><text x="320.5" y="882.5">security</text>
<rect class="v" x="333" y="880.3" width="8" height="3.4"/><text class="d" x="337" y="882.5">WPA2</text>
<rect class="s" x="311" y="885.3" width="3" height="3.4"/><text x="312.5" y="887.5">id</text>
<rect class="s" x="311" y="891.3" width="6" height="3.4"/><text x="314" y="893.5">status</text>
<rect class="v" x="322" y="891.3" width="9" height="3.4"/><text class="d" x="326.5" y="893.5">CREATED</text>
</g>

<g id="measuredAreas">
<rect class="j" x="242" y="905" width="28" height="6"/><text class="m" x="256" y="908.8">measuredAreas.json</text>
<rect class="o" x="274" y="905.8" width="15" height="3.4"/><text x="281.5" y="908">measuredAreas</text>
<rect class="s" x="291.5" y="898.3" width="12" height="3.4"/><text x="297.5" y="900.5">measuredAreaId</text>
<rect class="o" x="291.5" y="904.3" width="24" height="3.4"/><text x="303.5" y="906.5">areas</text>
<rect class="s" x="319" y="904.3" width="3" height="3.4"/><text x="320.5" y="906.5">id</text>
<rect class="s" x="291.5" y="908.3" width="3" height="3.4"/><text x="293" y="910.5">id</text>
<rect class="s" x="291.5" y="914.3" width="6" height="3.4"/><text x="294.5" y="916.5">status</text>
<rect class="v" x="302" y="914.3" width="10" height="3.4"/><text class="d" x="307" y="916.5">CREATED</text>
</g>

<g id="wifiAdapterInformations">
<rect class="j" x="242" y="936" width="38" height="6"/><text class="m" x="261" y="939.8">wifiAdapterInformations.json</text>
<rect class="o" x="284" y="937.8" width="20" height="3.4"/><text x="294" y="940">wifiAdapterInformations</text>
<rect class="s" x="307.5" y="921.3" width="8" height="3.4"/><text x="311.5" y="923.5">type</text>
<rect class="v" x="317" y="921.3" width="16" height="3.4"/><text class="d" x="325" y="923.5">EXTERNAL</text>
<rect class="s" x="307.5" y="926.3" width="6" height="3.4"/><text x="310.5" y="928.5">name</text>
<rect class="s" x="307.5" y="930.3" width="7" height="3.4"/><text x="311" y="932.5">mac</text>
<rect class="s" x="307.5" y="934.3" width="8" height="3.4"/><text x="311.5" y="936.5">driver</text>
<rect class="s" x="307.5" y="938.3" width="21" height="3.4"/><text x="318" y="940.5">surveyId</text>
<rect class="s" x="307.5" y="943.3" width="3" height="3.4"/><text x="309" y="945.5">id</text>
<rect class="s" x="307.5" y="951.3" width="7" height="3.4"/><text x="311" y="953.5">status</text>
<rect class="v" x="318" y="951.3" width="9" height="3.4"/><text class="d" x="322.5" y="953.5">CREATED</text>
</g>

<g id="notes">
<rect class="j" x="242" y="977" width="16" height="6"/><text class="m" x="250" y="980.8">notes.json</text>
<rect class="o" x="262" y="977.8" width="6" height="3.4"/><text x="265" y="980">notes</text>
<rect class="s" x="270.5" y="960.3" width="5" height="3.4"/><text x="273" y="962.5">id</text>
<rect class="p" x="270.5" y="972.3" width="8" height="3.4"/><text class="d" x="274.5" y="974.5">history</text>
<rect class="r" x="281" y="965.3" width="11" height="3.4"/><text x="286.5" y="967.5">createdAt</text>
<rect class="s" x="281" y="970.3" width="11" height="3.4"/><text x="286.5" y="972.5">createdBy</text>
<rect class="v" x="295" y="970.3" width="6" height="3.4"/><text class="d" x="298" y="972.5">user</text>
<rect class="r" x="281" y="975.3" width="11" height="3.4"/><text x="286.5" y="977.5">modifiedAt</text>
<rect class="s" x="281" y="981.3" width="11" height="3.4"/><text x="286.5" y="983.5">modifiedBy</text>
<rect class="v" x="295" y="981.3" width="6" height="3.4"/><text class="d" x="298" y="983.5">user</text>
<rect class="o" x="270.5" y="985.3" width="9" height="3.4"/><text x="275" y="987.5">imageIds</text>
<rect class="s" x="270.5" y="990.3" width="3" height="3.4"/><text x="272" y="992.5">text</text>
<rect class="s" x="270.5" y="996.3" width="7" height="3.4"/><text x="274" y="998.5">status</text>
<rect class="v" x="280" y="996.3" width="10" height="3.4"/><text class="d" x="285" y="998.5">CREATED</text>
</g>

<g id="wallTypes">
<rect class="j" x="182" y="76" width="21" height="6"/><text class="m" x="192.5" y="79.8">wallTypes.json</text>
<rect class="o" x="169" y="77.8" width="9" height="3.4"/><text x="173.5" y="80">wallTypes</text>
<rect class="s" x="159" y="61.3" width="7" height="3.4"/><text x="162.5" y="63.5">id</text>
<rect class="s" x="161" y="66.3" width="5" height="3.4"/><text x="163.5" y="68.5">name</text>
<rect class="s" x="160" y="71.3" width="6" height="3.4"/><text x="163" y="73.5">key</text>
<rect class="v" x="147" y="71.3" width="10" height="3.4"/><text class="d" x="152" y="73.5">CONCRETE</text>
<rect class="b" x="151" y="77.3" width="14" height="3.4"/><text class="d" x="158" y="79.5">thickness</text>
<rect class="v" x="139" y="77.3" width="9" height="3.4"/><text class="d" x="143.5" y="79.5">0.1</text>
<rect class="b" x="155" y="83.3" width="10" height="3.4"/><text class="d" x="160" y="85.5">attenuation</text>
<rect class="v" x="146" y="83.3" width="7" height="3.4"/><text class="d" x="149.5" y="85.5">12.0</text>
<rect class="s" x="162" y="87.3" width="3.5" height="3.4"/><text x="163.7" y="89.5">color</text>
<rect class="s" x="159" y="93.3" width="7" height="3.4"/><text x="162.5" y="95.5">status</text>
<rect class="v" x="146" y="93.3" width="9" height="3.4"/><text class="d" x="150.5" y="95.5">CREATED</text>
</g>

<g id="wallSegments">
<rect class="j" x="177" y="110" width="27" height="6"/><text class="m" x="190.5" y="113.8">wallSegments.json</text>
<rect class="o" x="161" y="111.8" width="13" height="3.4"/><text x="167.5" y="114">wallSegments</text>
<rect class="s" x="150" y="101.3" width="7.5" height="3.4"/><text x="153.7" y="103.5">id</text>
<rect class="s" x="150" y="106.3" width="7.5" height="3.4"/><text x="153.7" y="108.5">wallTypeId</text>
<rect class="s" x="147" y="110.3" width="10.5" height="3.4"/><text x="152.2" y="112.5">wallPoints</text>
<rect class="s" x="154.5" y="115.3" width="3" height="3.4"/><text x="156" y="117.5">id</text>
<rect class="s" x="150" y="120.3" width="7.5" height="3.4"/><text x="153.7" y="122.5">status</text>
<rect class="v" x="138" y="120.3" width="10" height="3.4"/><text class="d" x="143" y="122.5">CREATED</text>
</g>

<g id="wallPoints">
<rect class="j" x="182" y="140" width="21" height="6"/><text class="m" x="192.5" y="143.8">wallPoints.json</text>
<rect class="o" x="168" y="141.3" width="10" height="3.4"/><text x="173" y="143.5">wallPoints</text>
<rect class="p" x="157" y="132.3" width="8.5" height="3.4"/><text class="d" x="161.2" y="134.5">location</text>
<rect class="s" x="143" y="128.3" width="11.5" height="3.4"/><text x="148.7" y="130.5">floorPlanId</text>
<rect class="p" x="147" y="135.3" width="7.5" height="3.4"/><text class="d" x="150.7" y="137.5">coord</text>
<rect class="b" x="142.5" y="133.3" width="2.5" height="3.4"/><text class="d" x="143.7" y="135.5">x</text>
<rect class="b" x="142.5" y="138.3" width="2.5" height="3.4"/><text class="d" x="143.7" y="140.5">y</text>
<rect class="s" x="162" y="143.3" width="3.5" height="3.4"/><text x="163.7" y="145.5">id</text>
<rect class="s" x="158" y="148.3" width="7.5" height="3.4"/><text x="161.7" y="150.5">status</text>
<rect class="v" x="145" y="148.3" width="11" height="3.4"/><text class="d" x="150.5" y="150.5">CREATED</text>
</g>

<g id="detectableObjectTypes">
<rect class="j" x="167" y="171" width="37" height="6"/><text class="m" x="185.5" y="174.8">detectableObjectTypes.json</text>
<rect class="o" x="145" y="172.8" width="20" height="3.4"/><text x="155" y="175">detectableObjectTypes</text>
<rect class="s" x="135" y="156.3" width="7.5" height="3.4"/><text x="138.7" y="158.5">id</text>
<rect class="s" x="135" y="161.3" width="7.5" height="3.4"/><text x="138.7" y="163.5">name</text>
<rect class="s" x="137" y="166.3" width="5.5" height="3.4"/><text x="139.7" y="168.5">type</text>
<rect class="v" x="124" y="166.3" width="9" height="3.4"/><text class="d" x="128.5" y="168.5">TAG</text>
<rect class="b" x="131" y="171.3" width="11.5" height="3.4"/><text class="d" x="136.7" y="173.5">height</text>
<rect class="v" x="119" y="171.3" width="9" height="3.4"/><text class="d" x="123.5" y="173.5">1.0</text>
<rect class="b" x="132" y="177.3" width="10.5" height="3.4"/><text class="d" x="137.2" y="179.5">power</text>
<rect class="v" x="122" y="177.3" width="7" height="3.4"/><text class="d" x="125.5" y="179.5">0.0</text>
<rect class="s" x="140" y="182.3" width="2.5" height="3.4"/><text x="141.2" y="184.5">id</text>
<rect class="s" x="135" y="187.3" width="7.5" height="3.4"/><text x="138.7" y="189.5">status</text>
<rect class="v" x="123" y="187.3" width="10" height="3.4"/><text class="d" x="128" y="189.5">CREATED</text>
</g>

<g id="deviceProfiles">
<rect class="j" x="177" y="247" width="26" height="6"/><text class="m" x="190" y="250.8">deviceProfiles.json</text>
<rect class="o" x="161" y="248.8" width="12" height="3.4"/><text x="167" y="251">deviceProfiles</text>
<rect class="s" x="152" y="195.3" width="6" height="3.4"/><text x="155" y="197.5">id</text>
<rect class="s" x="154" y="200.3" width="4" height="3.4"/><text x="156" y="202.5">name</text>
<rect class="y" x="144" y="205.3" width="14" height="3.4"/><text class="d" x="151" y="207.5">maxStreams</text>
<rect class="y" x="144" y="209.3" width="14" height="3.4"/><text class="d" x="151" y="211.5">maxRate</text>
<rect class="y" x="144" y="214.3" width="14" height="3.4"/><text class="d" x="151" y="216.5">channelWidth</text>
<rect class="b" x="148" y="219.3" width="10" height="3.4"/><text class="d" x="153" y="221.5">txPower</text>
<rect class="v" x="137" y="219.3" width="9" height="3.4"/><text class="d" x="141.5" y="221.5">15.0</text>
<rect class="b" x="151" y="225.3" width="7" height="3.4"/><text class="d" x="154.5" y="227.5">gain</text>
<rect class="v" x="137" y="225.3" width="10" height="3.4"/><text class="d" x="142" y="227.5">0.0</text>
<rect class="s" x="135" y="239.3" width="23" height="3.4"/><text x="146.5" y="241.5">technology</text>
<rect class="v" x="124" y="231.3" width="8" height="3.4"/><text class="d" x="128" y="233.5">N</text>
<rect class="v" x="124" y="236.3" width="8" height="3.4"/><text class="d" x="128" y="238.5">AC</text>
<rect class="v" x="124" y="241.3" width="8" height="3.4"/><text class="d" x="128" y="243.5">AX</text>
<rect class="v" x="124" y="247.3" width="8" height="3.4"/><text class="d" x="128" y="249.5">BE</text>
<rect class="s" x="136" y="266.3" width="22" height="3.4"/><text x="147" y="268.5">supportedChannels</text>
<rect class="v" x="129" y="253.3" width="4.5" height="3.4"/><text class="d" x="131.2" y="255.5">1</text>
<rect class="v" x="129" y="259.3" width="4.5" height="3.4"/><text class="d" x="131.2" y="261.5">6</text>
<rect class="v" x="129" y="264.3" width="4.5" height="3.4"/><text class="d" x="131.2" y="266.5">11</text>
<rect class="v" x="129" y="269.3" width="4.5" height="3.4"/><text class="d" x="131.2" y="271.5">36</text>
<rect class="v" x="129" y="275.3" width="4.5" height="3.4"/><text class="d" x="131.2" y="277.5">40</text>
<rect class="v" x="129" y="280.3" width="4.5" height="3.4"/><text class="d" x="131.2" y="282.5">44</text>
<rect class="g" x="149" y="285.3" width="9" height="3.4"/><text x="153.5" y="287.5">isDefault</text>
<rect class="s" x="154" y="290.3" width="4" height="3.4"/><text x="156" y="292.5">type</text>
<rect class="y" x="149" y="295.3" width="9" height="3.4"/><text class="d" x="153.5" y="297.5">antennas</text>
<rect class="s" x="151" y="300.3" width="7" height="3.4"/><text x="154.5" y="302.5">status</text>
<rect class="v" x="137" y="300.3" width="11" height="3.4"/><text class="d" x="142.5" y="302.5">CREATED</text>
</g>

<g id="projectHistorys">
<rect class="j" x="176" y="332" width="27" height="6"/><text class="m" x="189.5" y="335.8">projectHistorys.json</text>
<rect class="o" x="159" y="333.8" width="13" height="3.4"/><text x="165.5" y="336">projectHistorys</text>
<rect class="o" x="147" y="308.3" width="9.5" height="3.4"/><text x="151.7" y="310.5">software</text>
<rect class="r" x="145" y="313.3" width="11.5" height="3.4"/><text x="150.7" y="315.5">timestamp</text>
<rect class="s" x="148" y="318.3" width="8.5" height="3.4"/><text x="152.2" y="320.5">id</text>
<rect class="s" x="143" y="322.3" width="13.5" height="3.4"/><text x="149.7" y="324.5">projectId</text>
<rect class="s" x="142" y="327.3" width="14.5" height="3.4"/><text x="149.2" y="329.5">operation</text>
<rect class="v" x="128" y="327.3" width="11" height="3.4"/><text class="d" x="133.5" y="329.5">SAVE</text>
<rect class="s" x="142" y="332.3" width="14.5" height="3.4"/><text x="149.2" y="334.5">userName</text>
<rect class="s" x="141" y="337.3" width="15.5" height="3.4"/><text x="148.7" y="339.5">computerName</text>
<rect class="s" x="146" y="342.3" width="10.5" height="3.4"/><text x="151.2" y="344.5">platform</text>
<rect class="v" x="130" y="342.3" width="13" height="3.4"/><text class="d" x="136.5" y="344.5">WINDOWS</text>
<rect class="s" x="147" y="347.3" width="9.5" height="3.4"/><text x="151.7" y="349.5">version</text>
<rect class="s" x="152" y="352.3" width="4.5" height="3.4"/><text x="154.2" y="354.5">build</text>
<rect class="s" x="149" y="357.3" width="7.5" height="3.4"/><text x="152.7" y="359.5">status</text>
<rect class="v" x="136" y="357.3" width="10" height="3.4"/><text class="d" x="141" y="359.5">CREATED</text>
</g>

<g id="projectConfiguration">
<rect class="j" x="169" y="374" width="34" height="6"/><text class="m" x="186" y="377.8">projectConfiguration.json</text>
<rect class="o" x="148" y="375.8" width="18" height="3.4"/><text x="157" y="378">projectConfiguration</text>
<rect class="o" x="125" y="369.3" width="20.5" height="3.4"/><text x="135.2" y="371.5">wifiDefaults</text>
<rect class="s" x="116" y="366.3" width="7" height="3.4"/><text x="119.5" y="368.5">band</text>
<rect class="s" x="117" y="373.3" width="6" height="3.4"/><text x="120" y="375.5">mode</text>
<rect class="s" x="142" y="380.3" width="3.5" height="3.4"/><text x="143.7" y="382.5">id</text>
<rect class="s" x="138" y="385.3" width="7.5" height="3.4"/><text x="141.7" y="387.5">status</text>
<rect class="v" x="125" y="385.3" width="10" height="3.4"/><text class="d" x="130" y="387.5">CREATED</text>
</g>

<g id="project">
<rect class="j" x="185" y="431" width="18" height="6"/><text class="m" x="194" y="434.8">project.json</text>
<rect class="o" x="174" y="432.3" width="8" height="3.4"/><text x="178" y="434.5">project</text>
<rect class="s" x="157" y="393.3" width="15" height="3.4"/><text x="164.5" y="395.5">id</text>
<rect class="s" x="166" y="398.3" width="6" height="3.4"/><text x="169" y="400.5">name</text>
<rect class="s" x="167" y="403.3" width="5" height="3.4"/><text x="169.5" y="405.5">title</text>
<rect class="s" x="162" y="408.3" width="10" height="3.4"/><text x="167" y="410.5">customer</text>
<rect class="s" x="163" y="412.3" width="9" height="3.4"/><text x="167.5" y="414.5">location</text>
<rect class="s" x="155" y="417.3" width="17" height="3.4"/><text x="163.5" y="419.5">responsiblePerson</text>
<rect class="o" x="156" y="422.3" width="16" height="3.4"/><text x="164" y="424.5">projectAncestors</text>
<rect class="p" x="162" y="431.3" width="9" height="3.4"/><text class="d" x="166.5" y="433.5">schema</text>
<rect class="s" x="144" y="426.3" width="15.5" height="3.4"/><text x="151.7" y="428.5">schemaVersion</text>
<rect class="s" x="148" y="431.3" width="11.5" height="3.4"/><text x="153.7" y="433.5">unit</text>
<rect class="s" x="153" y="436.3" width="6.5" height="3.4"/><text x="156.2" y="438.5">type</text>
<rect class="v" x="139" y="436.3" width="11" height="3.4"/><text class="d" x="144.5" y="438.5">METERS</text>
<rect class="p" x="164" y="448.3" width="8" height="3.4"/><text class="d" x="168" y="450.5">history</text>
<rect class="r" x="151" y="441.3" width="10.5" height="3.4"/><text x="156.2" y="443.5">createdAt</text>
<rect class="s" x="151" y="446.3" width="10.5" height="3.4"/><text x="156.2" y="448.5">createdBy</text>
<rect class="r" x="151" y="451.3" width="10.5" height="3.4"/><text x="156.2" y="453.5">modifiedAt</text>
<rect class="s" x="151" y="455.3" width="10.5" height="3.4"/><text x="156.2" y="457.5">modifiedBy</text>
<rect class="s" x="152" y="460.3" width="20" height="3.4"/><text x="162" y="462.5">description</text>
<rect class="s" x="166" y="465.3" width="6" height="3.4"/><text x="169" y="467.5">note</text>
<rect class="s" x="165" y="469.3" width="7" height="3.4"/><text x="168.5" y="471.5">status</text>
<rect class="v" x="152" y="469.3" width="9" height="3.4"/><text class="d" x="156.5" y="471.5">CREATED</text>
</g>

<g id="networkCapacitySettings">
<rect class="j" x="164" y="533" width="39" height="6"/><text class="m" x="183.5" y="536.8">networkCapacitySettings.json</text>
<rect class="o" x="139" y="534.3" width="22" height="3.4"/><text x="150" y="536.5">networkCapacitySettings</text>
<rect class="s" x="123" y="481.3" width="14" height="3.4"/><text x="130" y="483.5">frequencyBand</text>
<rect class="v" x="113" y="478.3" width="7" height="3.4"/><text class="d" x="116.5" y="480.5">TWO</text>
<rect class="v" x="113" y="484.3" width="7" height="3.4"/><text class="d" x="116.5" y="486.5">FIVE</text>
<rect class="y" x="123" y="489.3" width="14" height="3.4"/><text class="d" x="130" y="491.5">numberOfSsids</text>
<rect class="g" x="124" y="494.3" width="13" height="3.4"/><text x="130.5" y="496.5">rtsCtsEnabled</text>
<rect class="y" x="111" y="498.3" width="26" height="3.4"/><text class="d" x="124" y="500.5">abgnMode</text>
<rect class="s" x="119" y="534.3" width="5" height="3.4"/><text x="121.5" y="536.5">rate</text>
<rect class="v" x="112" y="503.3" width="5" height="3.4"/><text class="d" x="114.5" y="505.5">1</text>
<rect class="v" x="112" y="508.3" width="5" height="3.4"/><text class="d" x="114.5" y="510.5">2</text>
<rect class="v" x="110" y="513.3" width="7" height="3.4"/><text class="d" x="113.5" y="515.5">5.5</text>
<rect class="v" x="112" y="518.3" width="5" height="3.4"/><text class="d" x="114.5" y="520.5">6</text>
<rect class="v" x="112" y="523.3" width="5" height="3.4"/><text class="d" x="114.5" y="525.5">9</text>
<rect class="v" x="112" y="528.3" width="5" height="3.4"/><text class="d" x="114.5" y="530.5">11</text>
<rect class="v" x="112" y="533.3" width="5" height="3.4"/><text class="d" x="114.5" y="535.5">12</text>
<rect class="v" x="112" y="538.3" width="5" height="3.4"/><text class="d" x="114.5" y="540.5">18</text>
<rect class="v" x="112" y="543.3" width="5" height="3.4"/><text class="d" x="114.5" y="545.5">24</text>
<rect class="v" x="112" y="548.3" width="5" height="3.4"/><text class="d" x="114.5" y="550.5">36</text>
<rect class="v" x="112" y="553.3" width="5" height="3.4"/><text class="d" x="114.5" y="555.5">48</text>
<rect class="v" x="112" y="558.3" width="5" height="3.4"/><text class="d" x="114.5" y="560.5">54</text>
<rect class="v" x="112" y="563.3" width="5" height="3.4"/><text class="d" x="114.5" y="565.5">MCS</text>
<rect class="o" x="127" y="553.3" width="10" height="3.4"/><text x="132" y="555.5">basicRates</text>
<rect class="s" x="119" y="572.3" width="5" height="3.4"/><text x="121.5" y="574.5">mode</text>
<rect class="v" x="105" y="569.3" width="11" height="3.4"/><text class="d" x="110.5" y="571.5">AUTO</text>
<rect class="v" x="102" y="575.3" width="14" height="3.4"/><text class="d" x="109" y="577.5">MANUAL</text>
<rect class="s" x="134" y="580.3" width="3" height="3.4"/><text x="135.5" y="582.5">id</text>
<rect class="s" x="130" y="585.3" width="7" height="3.4"/><text x="133.5" y="587.5">status</text>
<rect class="v" x="117" y="585.3" width="10" height="3.4"/><text class="d" x="122" y="587.5">CREATED</text>
</g>

<g id="image-data">
<rect class="im" x="182" y="595" width="21" height="6"/><text x="192.5" y="598.7" font-size="1.8">image-xxxxxxxx</text>
</g>

<g id="images">
<rect class="j" x="185" y="614" width="18" height="6"/><text class="m" x="194" y="617.8">images.json</text>
<rect class="o" x="174" y="615.3" width="8" height="3.4"/><text x="178" y="617.5">images</text>
<rect class="s" x="160" y="605.3" width="12" height="3.4"/><text x="166" y="607.5">imageFormat</text>
<rect class="v" x="150" y="605.3" width="7" height="3.4"/><text class="d" x="153.5" y="607.5">PNG</text>
<rect class="b" x="158" y="610.3" width="14" height="3.4"/><text class="d" x="165" y="612.5">width</text>
<rect class="b" x="158" y="615.3" width="14" height="3.4"/><text class="d" x="165" y="617.5">height</text>
<rect class="s" x="168" y="619.3" width="4" height="3.4"/><text x="170" y="621.5">id</text>
<rect class="s" x="165" y="624.3" width="7" height="3.4"/><text x="168.5" y="626.5">status</text>
<rect class="v" x="152" y="624.3" width="10" height="3.4"/><text class="d" x="157" y="626.5">CREATED</text>
</g>

<g id="floorTypes">
<rect class="j" x="181" y="645" width="22" height="6"/><text class="m" x="192" y="648.8">floorTypes.json</text>
<rect class="o" x="167" y="646" width="10" height="3.4"/><text x="172" y="648.2">floorTypes</text>
<rect class="s" x="159" y="633.3" width="5.5" height="3.4"/><text x="161.7" y="635.5">id</text>
<rect class="s" x="158" y="637.3" width="6.5" height="3.4"/><text x="161.2" y="639.5">name</text>
<rect class="b" x="146" y="642.3" width="18.5" height="3.4"/><text class="d" x="155.2" y="644.5">attenuation</text>
<rect class="g" x="156" y="647.3" width="8.5" height="3.4"/><text x="160.2" y="649.5">isDefault</text>
<rect class="s" x="161" y="652.3" width="3.5" height="3.4"/><text x="162.7" y="654.5">key</text>
<rect class="s" x="158" y="657.3" width="6.5" height="3.4"/><text x="161.2" y="659.5">status</text>
<rect class="v" x="144" y="657.3" width="10" height="3.4"/><text class="d" x="149" y="659.5">CREATED</text>
</g>

<g id="cableNotes">
<rect class="j" x="179" y="674" width="24" height="6"/><text class="m" x="191" y="677.8">cableNotes.json</text>
<rect class="o" x="165" y="675.8" width="11" height="3.4"/><text x="170.5" y="678">cableNotes</text>
<rect class="s" x="150" y="665.3" width="12.5" height="3.4"/><text x="156.2" y="667.5">floorPlanId</text>
<rect class="o" x="156" y="672.3" width="6.5" height="3.4"/><text x="159.2" y="674.5">points</text>
<rect class="b" x="151" y="670.3" width="3" height="3.4"/><text class="d" x="152.5" y="672.5">x</text>
<rect class="b" x="151" y="675.3" width="3" height="3.4"/><text class="d" x="152.5" y="677.5">y</text>
<rect class="s" x="159" y="680.3" width="3.5" height="3.4"/><text x="160.7" y="682.5">id</text>
<rect class="s" x="158" y="684.3" width="4.5" height="3.4"/><text x="160.2" y="686.5">status</text>
<rect class="v" x="142" y="684.3" width="10" height="3.4"/><text class="d" x="147" y="686.5">CREATED</text>
</g>

<g id="referencePoints">
<rect class="j" x="175" y="699" width="28" height="6"/><text class="m" x="189" y="702.8">referencePoints.json</text>
<rect class="o" x="158" y="700.8" width="14" height="3.4"/><text x="165" y="703">referencePoints</text>
<rect class="s" x="149" y="692.3" width="6.5" height="3.4"/><text x="152.2" y="694.5">name</text>
<rect class="o" x="144" y="706.3" width="11.5" height="3.4"/><text x="149.7" y="708.5">location</text>
<rect class="s" x="130" y="697.3" width="11.5" height="3.4"/><text x="135.7" y="699.5">floorPlanId</text>
<rect class="p" x="134" y="704.3" width="7.5" height="3.4"/><text class="d" x="137.7" y="706.5">coord</text>
<rect class="b" x="129.5" y="702.3" width="2.5" height="3.4"/><text class="d" x="130.7" y="704.5">x</text>
<rect class="b" x="129.5" y="706.3" width="2.5" height="3.4"/><text class="d" x="130.7" y="708.5">y</text>
<rect class="s" x="138" y="711.3" width="3.5" height="3.4"/><text x="139.7" y="713.5">id</text>
<rect class="s" x="134" y="717.3" width="7.5" height="3.4"/><text x="137.7" y="719.5">status</text>
<rect class="v" x="121" y="717.3" width="10" height="3.4"/><text class="d" x="126" y="719.5">CREATED</text>
</g>

<g id="pictureNotes">
<rect class="j" x="175" y="736" width="28" height="6"/><text class="m" x="189" y="739.8">pictureNotes.json</text>
<rect class="o" x="158" y="737.3" width="14" height="3.4"/><text x="165" y="739.5">pictureNotes</text>
<rect class="s" x="145" y="725.3" width="10.5" height="3.4"/><text x="150.2" y="727.5">floorPlanId</text>
<rect class="s" x="150" y="730.3" width="5.5" height="3.4"/><text x="152.7" y="732.5">noteIds</text>
<rect class="o" x="150" y="736.3" width="5.5" height="3.4"/><text x="152.7" y="738.5">coord</text>
<rect class="b" x="145.5" y="734.3" width="2.5" height="3.4"/><text class="d" x="146.7" y="736.5">x</text>
<rect class="b" x="145.5" y="739.3" width="2.5" height="3.4"/><text class="d" x="146.7" y="741.5">y</text>
<rect class="s" x="152" y="744.3" width="3.5" height="3.4"/><text x="153.7" y="746.5">id</text>
<rect class="s" x="149" y="749.3" width="6.5" height="3.4"/><text x="152.2" y="751.5">status</text>
<rect class="v" x="136" y="749.3" width="10" height="3.4"/><text class="d" x="141" y="751.5">CREATED</text>
</g>

<g id="floorPlans">
<rect class="j" x="181" y="796" width="22" height="6"/><text class="m" x="192" y="799.8">floorPlans.json</text>
<rect class="o" x="167" y="796.8" width="11" height="3.4"/><text x="172.5" y="799">floorPlans</text>
<rect class="s" x="159" y="757.3" width="6" height="3.4"/><text x="162" y="759.5">name</text>
<rect class="b" x="159" y="762.3" width="6" height="3.4"/><text class="d" x="162" y="764.5">width</text>
<rect class="b" x="159" y="767.3" width="6" height="3.4"/><text class="d" x="162" y="769.5">height</text>
<rect class="b" x="152" y="771.3" width="13" height="3.4"/><text class="d" x="158.5" y="773.5">metersPerUnit</text>
<rect class="s" x="157" y="776.3" width="8" height="3.4"/><text x="161" y="778.5">imageId</text>
<rect class="s" x="156" y="781.3" width="9" height="3.4"/><text x="160.5" y="783.5">bitmapImageId</text>
<rect class="o" x="147" y="786.3" width="18" height="3.4"/><text x="156" y="788.5">gpsReferencePoints</text>
<rect class="s" x="152" y="791.3" width="13" height="3.4"/><text x="158.5" y="793.5">floorType</text>
<rect class="v" x="142" y="791.3" width="7" height="3.4"/><text class="d" x="145.5" y="793.5">id</text>
<rect class="b" x="156" y="795.3" width="9" height="3.4"/><text class="d" x="160.5" y="797.5">cropMinX</text>
<rect class="b" x="156" y="800.3" width="9" height="3.4"/><text class="d" x="160.5" y="802.5">cropMinY</text>
<rect class="b" x="156" y="805.3" width="9" height="3.4"/><text class="d" x="160.5" y="807.5">cropMaxX</text>
<rect class="b" x="156" y="810.3" width="9" height="3.4"/><text class="d" x="160.5" y="812.5">cropMaxY</text>
<rect class="s" x="148" y="815.3" width="17" height="3.4"/><text x="156.5" y="817.5">rotateUpDirection</text>
<rect class="v" x="141" y="815.3" width="5" height="3.4"/><text class="d" x="143.5" y="817.5">UP</text>
<rect class="o" x="160" y="822.3" width="5" height="3.4"/><text x="162.5" y="824.5">tags</text>
<rect class="s" x="149" y="820.3" width="8.5" height="3.4"/><text x="153.2" y="822.5">tagKeyId</text>
<rect class="s" x="151" y="824.3" width="6.5" height="3.4"/><text x="154.2" y="826.5">value</text>
<rect class="s" x="162" y="829.3" width="3" height="3.4"/><text x="163.5" y="831.5">id</text>
<rect class="s" x="158" y="834.3" width="7" height="3.4"/><text x="161.5" y="836.5">status</text>
<rect class="v" x="145" y="834.3" width="11" height="3.4"/><text class="d" x="150.5" y="836.5">CREATED</text>
</g>

<g id="areas">
<rect class="j" x="187" y="864" width="17" height="6"/><text class="m" x="195.5" y="867.8">areas.json</text>
<rect class="o" x="178" y="865.3" width="6" height="3.4"/><text x="181" y="867.5">areas</text>
<rect class="s" x="164" y="842.3" width="11" height="3.4"/><text x="169.5" y="844.5">floorPlanId</text>
<rect class="s" x="169" y="847.3" width="6" height="3.4"/><text x="172" y="849.5">name</text>
<rect class="o" x="167" y="852.3" width="8" height="3.4"/><text x="171" y="854.5">area</text>
<rect class="s" x="162" y="857.3" width="13" height="3.4"/><text x="168.5" y="859.5">requirementId</text>
<rect class="o" x="162" y="862.3" width="13" height="3.4"/><text x="168.5" y="864.5">tags</text>
<rect class="s" x="169" y="867.3" width="6" height="3.4"/><text x="172" y="869.5">type</text>
<rect class="v" x="157" y="867.3" width="9" height="3.4"/><text class="d" x="161.5" y="869.5">INCLUDE</text>
<rect class="o" x="170" y="874.3" width="5" height="3.4"/><text x="172.5" y="876.5">pts</text>
<rect class="b" x="165" y="872.3" width="2.5" height="3.4"/><text class="d" x="166.2" y="874.5">x</text>
<rect class="b" x="165" y="877.3" width="2.5" height="3.4"/><text class="d" x="166.2" y="879.5">y</text>
<rect class="s" x="172" y="882.3" width="3" height="3.4"/><text x="173.5" y="884.5">id</text>
<rect class="s" x="168" y="887.3" width="7" height="3.4"/><text x="171.5" y="889.5">status</text>
<rect class="v" x="155" y="887.3" width="11" height="3.4"/><text class="d" x="160.5" y="889.5">CREATED</text>
</g>

<g id="applicationProfiles">
<rect class="j" x="171" y="911" width="33" height="6"/><text class="m" x="187.5" y="914.8">applicationProfiles.json</text>
<rect class="o" x="152" y="911.8" width="16" height="3.4"/><text x="160" y="914">applicationProfiles</text>
<rect class="s" x="142" y="895.3" width="6.5" height="3.4"/><text x="145.2" y="897.5">id</text>
<rect class="s" x="143" y="900.3" width="5.5" height="3.4"/><text x="145.7" y="902.5">name</text>
<rect class="s" x="134" y="905.3" width="14.5" height="3.4"/><text x="141.2" y="907.5">applicationType</text>
<rect class="v" x="124" y="905.3" width="8" height="3.4"/><text class="d" x="128" y="907.5">VOICE</text>
<rect class="o" x="131" y="910.3" width="17.5" height="3.4"/><text x="139.7" y="912.5">requirements</text>
<rect class="b" x="142" y="915.3" width="6.5" height="3.4"/><text class="d" x="145.2" y="917.5">rate</text>
<rect class="g" x="139" y="919.3" width="9.5" height="3.4"/><text x="143.7" y="921.5">isDefault</text>
<rect class="s" x="142" y="928.3" width="6.5" height="3.4"/><text x="145.2" y="930.5">status</text>
<rect class="v" x="128" y="928.3" width="10" height="3.4"/><text class="d" x="133" y="930.5">CREATED</text>
</g>

<g id="buildings">
<rect class="j" x="182" y="946" width="22" height="6"/><text class="m" x="193" y="949.8">buildings.json</text>
<rect class="o" x="170" y="947" width="9" height="3.4"/><text x="174.5" y="949.2">buildings</text>
<rect class="s" x="161" y="937.3" width="6.5" height="3.4"/><text x="164.2" y="939.5">id</text>
<rect class="s" x="164" y="942.3" width="3.5" height="3.4"/><text x="165.7" y="944.5">name</text>
<rect class="s" x="161" y="947.3" width="6.5" height="3.4"/><text x="164.2" y="949.5">status</text>
<rect class="v" x="148" y="947.3" width="9" height="3.4"/><text class="d" x="152.5" y="949.5">CREATED</text>
<rect class="o" x="162" y="955.3" width="5.5" height="3.4"/><text x="164.7" y="957.5">tags</text>
<rect class="s" x="151" y="952.3" width="8.5" height="3.4"/><text x="155.2" y="954.5">tagKeyId</text>
<rect class="s" x="151" y="957.3" width="8.5" height="3.4"/><text x="155.2" y="959.5">value</text>
</g>

<g id="buildingFloors">
<rect class="j" x="177" y="982" width="26" height="6"/><text class="m" x="190" y="985.8">buildingFloors.json</text>
<rect class="o" x="160" y="983.3" width="14" height="3.4"/><text x="167" y="985.5">buildingFloors</text>
<rect class="s" x="147" y="964.3" width="10.5" height="3.4"/><text x="152.2" y="966.5">floorPlanId</text>
<rect class="s" x="148" y="969.3" width="9.5" height="3.4"/><text x="152.7" y="971.5">buildingId</text>
<rect class="s" x="147" y="974.3" width="10.5" height="3.4"/><text x="152.2" y="976.5">floorTypeId</text>
<rect class="y" x="146" y="979.3" width="11.5" height="3.4"/><text class="d" x="151.7" y="981.5">floorNumber</text>
<rect class="b" x="151" y="984.3" width="6.5" height="3.4"/><text class="d" x="154.2" y="986.5">height</text>
<rect class="v" x="140" y="984.3" width="8" height="3.4"/><text class="d" x="144" y="986.5">3.0</text>
<rect class="b" x="148" y="989.3" width="9.5" height="3.4"/><text class="d" x="152.7" y="991.5">thickness</text>
<rect class="v" x="138" y="989.3" width="7" height="3.4"/><text class="d" x="141.5" y="991.5">0.3</text>
<rect class="s" x="154" y="995.3" width="3.5" height="3.4"/><text x="155.7" y="997.5">id</text>
<rect class="s" x="151" y="1000.3" width="6.5" height="3.4"/><text x="154.2" y="1002.5">status</text>
<rect class="v" x="138" y="1000.3" width="10" height="3.4"/><text class="d" x="143" y="1002.5">CREATED</text>
</g>

<g id="legend">
<rect x="449" y="593" width="26" height="6" fill="#e8252f"/><text x="462" y="596.8" font-size="2.2" font-weight="bold">ESX</text>
<rect class="im" x="435" y="602" width="26" height="6"/><text x="448" y="605.7" font-size="2">Image Data</text>
<rect class="j" x="464" y="602" width="26" height="6"/><text x="477" y="605.7" font-size="2">JSON</text>
<rect class="b" x="435" y="612" width="26" height="6"/><text class="d" x="448" y="615.7" font-size="2">Text File</text>
<rect class="y" x="464" y="612" width="26" height="6"/><text class="d" x="477" y="615.7" font-size="2">Binary Data File</text>
<rect class="v" x="438" y="625" width="15" height="4.5" style="rx:2.2px"/><text class="d" x="445.5" y="627.9" font-size="1.6">fixed value</text>
<rect class="v" x="465" y="625" width="23" height="4.5" style="rx:2.2px"/><text class="d" x="476.5" y="627.9" font-size="1.6">example values</text>
<rect class="r" x="446" y="638" width="12.5" height="4.5"/><text x="452.2" y="641" font-size="1.6">datetime</text>
<rect class="o" x="467" y="638" width="12.5" height="4.5"/><text x="473.2" y="641" font-size="1.6">object</text>
<rect class="y" x="446" y="645" width="12.5" height="4.5"/><text class="d" x="452.2" y="648" font-size="1.6">integer</text>
<rect class="s" x="467" y="645" width="12.5" height="4.5"/><text x="473.2" y="648" font-size="1.6">string</text>
<rect class="b" x="446" y="653" width="12.5" height="4.5"/><text class="d" x="452.2" y="656" font-size="1.6">float</text>
<rect class="g" x="467" y="653" width="12.5" height="4.5"/><text x="473.2" y="656" font-size="1.6">boolean</text>
<rect class="p" x="457" y="663" width="12.5" height="4.5" style="rx:2.2px"/><text class="d" x="463.2" y="666" font-size="1.6">array</text>
</g>
</svg>
